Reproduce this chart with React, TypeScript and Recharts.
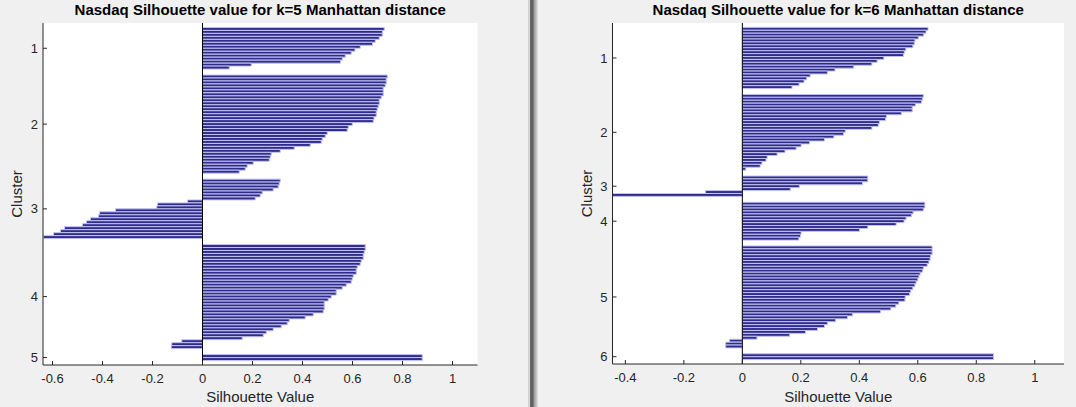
import React from 'react';
import { BarChart, Bar, XAxis, YAxis, ReferenceLine, CartesianGrid } from 'recharts';

// silhouette values per cluster, sorted as MATLAB draws them (top to bottom)
const k5Cluster1 = [0.727, 0.72, 0.719, 0.707, 0.691, 0.68, 0.631, 0.61, 0.595, 0.571, 0.559, 0.552, 0.195, 0.107];
const k5Cluster2 = [
    0.739, 0.735, 0.735, 0.731, 0.723, 0.723, 0.723, 0.715, 0.707, 0.707,
    0.703, 0.699, 0.695, 0.695, 0.686, 0.683, 0.599, 0.583, 0.579, 0.499,
    0.491, 0.479, 0.475, 0.431, 0.367, 0.311, 0.275, 0.271, 0.267, 0.203,
    0.179, 0.171, 0.147,
];
const k5Cluster3 = [
    0.311, 0.307, 0.303, 0.283, 0.239, 0.231, 0.211, -0.06, -0.18, -0.183,
    -0.348, -0.412, -0.416, -0.448, -0.464, -0.48, -0.552, -0.568, -0.596, -0.636,
];
const k5Cluster4 = [
    0.651, 0.651, 0.647, 0.643, 0.643, 0.635, 0.631, 0.619, 0.615, 0.615,
    0.603, 0.599, 0.595, 0.575, 0.559, 0.535, 0.535, 0.515, 0.503, 0.487,
    0.487, 0.487, 0.483, 0.443, 0.411, 0.347, 0.339, 0.315, 0.283, 0.255,
    0.243, 0.159, -0.083, -0.123, -0.125,
];
const k5Cluster5 = [0.879, 0.879];

const k6Cluster1 = [
    0.635, 0.628, 0.62, 0.602, 0.59, 0.588, 0.583, 0.559, 0.554, 0.551,
    0.484, 0.461, 0.443, 0.381, 0.317, 0.291, 0.232, 0.22, 0.211, 0.194, 0.17,
];
const k6Cluster2 = [
    0.619, 0.616, 0.613, 0.592, 0.581, 0.581, 0.544, 0.493, 0.49, 0.469,
    0.465, 0.443, 0.352, 0.346, 0.313, 0.281, 0.23, 0.201, 0.184, 0.146,
    0.119, 0.085, 0.081, 0.067, 0.061, 0.012,
];
const k6Cluster3 = [0.429, 0.429, 0.411, 0.195, 0.164, -0.126, -0.444];
const k6Cluster4 = [0.624, 0.624, 0.619, 0.584, 0.578, 0.56, 0.553, 0.526, 0.429, 0.401, 0.201, 0.199, 0.193];
const k6Cluster5 = [
    0.649, 0.649, 0.649, 0.644, 0.642, 0.638, 0.632, 0.619, 0.616, 0.608,
    0.604, 0.6, 0.594, 0.59, 0.583, 0.576, 0.572, 0.557, 0.556, 0.535,
    0.525, 0.508, 0.473, 0.377, 0.36, 0.319, 0.291, 0.281, 0.257, 0.216,
    0.162, 0.05, -0.044, -0.057, -0.057,
];
const k6Cluster6 = [0.859, 0.859];

const k5XTicks = [-0.6, -0.4, -0.2, 0, 0.2, 0.4, 0.6, 0.8, 1];
const k6XTicks = [-0.4, -0.2, 0, 0.2, 0.4, 0.6, 0.8, 1];

const GAP = 2; // empty rows around each cluster, like silhouette()
const FONT = '"Liberation Sans", Arial, Helvetica, sans-serif';
const AXIS = '#262626';
const BAR_FILL = '#2f2c8a';
const BAR_EDGE = '#c2c2f5';
const H = 407;

function buildRows(clusters: number[][]) {
    const rows: { pos: number; value: number }[] = [];
    const centers: number[] = [];
    let pos = GAP;
    clusters.forEach((c) => {
        centers.push(pos + 1 + (c.length - 1) / 2);
        c.forEach((v, i) => rows.push({ pos: pos + 1 + i, value: v }));
        pos += c.length + GAP;
    });
    return { rows, centers, last: pos };
}

interface PanelProps {
    title: string;
    clusters: number[][];
    xDomain: [number, number];
    xTicks: number[];
    width: number;
    plotLeft: number;
    plotRight: number;
    plotTop: number;
    plotBottom: number;
    clusterLabelX: number;
}

const SilhouettePanel: React.FC<PanelProps> = (p) => {
    const { rows, centers, last } = buildRows(p.clusters);
    const pitch = (p.plotBottom - p.plotTop) / (last - 1);
    const tickStyle = { fill: AXIS, fontSize: 13, fontFamily: FONT };
    const blank = () => '';
    return (
        <div style={{ position: 'relative', width: p.width, height: H }}>
            <BarChart
                width={p.width}
                height={H}
                data={rows}
                layout="vertical"
                margin={{ top: p.plotTop, right: p.width - p.plotRight, bottom: 0, left: 0 }}
                barCategoryGap={0}
                barGap={0}
            >
                <CartesianGrid xAxisId="b" yAxisId="l" fill="#ffffff" horizontal={false} vertical={false} />
                <XAxis
                    xAxisId="b"
                    type="number"
                    domain={p.xDomain}
                    allowDataOverflow
                    ticks={p.xTicks}
                    interval={0}
                    tickSize={-4}
                    tickMargin={13}
                    height={H - p.plotBottom}
                    axisLine={{ stroke: AXIS }}
                    tickLine={{ stroke: AXIS }}
                    tick={tickStyle}
                    tickFormatter={(v) => String(v)}
                    label={{ value: 'Silhouette Value', position: 'insideBottom', offset: 5.5, fill: AXIS, fontSize: 15, fontFamily: FONT }}
                />
                <XAxis
                    xAxisId="t"
                    orientation="top"
                    type="number"
                    domain={p.xDomain}
                    allowDataOverflow
                    ticks={p.xTicks}
                    interval={0}
                    tickSize={-4}
                    height={0}
                    axisLine={{ stroke: AXIS }}
                    tickLine={{ stroke: AXIS }}
                    tickFormatter={blank}
                />
                <YAxis
                    yAxisId="l"
                    type="number"
                    dataKey="pos"
                    domain={[1, last]}
                    allowDataOverflow
                    ticks={centers}
                    interval={0}
                    tickSize={-4}
                    tickMargin={9}
                    width={p.plotLeft}
                    axisLine={{ stroke: AXIS }}
                    tickLine={{ stroke: AXIS }}
                    tick={tickStyle}
                    tickFormatter={(v) => String(centers.indexOf(v) + 1)}
                    label={{ value: 'Cluster', angle: -90, position: 'insideLeft', offset: p.clusterLabelX, textAnchor: 'middle', fill: AXIS, fontSize: 15, fontFamily: FONT }}
                />
                <YAxis
                    yAxisId="r"
                    orientation="right"
                    type="number"
                    dataKey="pos"
                    domain={[1, last]}
                    allowDataOverflow
                    ticks={centers}
                    interval={0}
                    tickSize={-4}
                    width={0}
                    axisLine={{ stroke: AXIS }}
                    tickLine={{ stroke: AXIS }}
                    tickFormatter={blank}
                />
                <Bar
                    xAxisId="b"
                    yAxisId="l"
                    dataKey="value"
                    fill={BAR_FILL}
                    stroke={BAR_EDGE}
                    strokeWidth={1}
                    barSize={pitch - 0.02}
                    isAnimationActive={false}
                />
                <ReferenceLine xAxisId="b" yAxisId="l" x={0} stroke="#000" strokeWidth={1} />
            </BarChart>
            <svg width={p.width} height={H} style={{ position: 'absolute', left: 0, top: 0, pointerEvents: 'none' }}>
                <text
                    x={(p.plotLeft + p.plotRight) / 2}
                    y={14.5}
                    textAnchor="middle"
                    fill="#000"
                    fontSize={15}
                    fontWeight="bold"
                    fontFamily={FONT}
                >
                    {p.title}
                </text>
            </svg>
        </div>
    );
};

export default function App() {
    return (
        <div style={{ position: 'absolute', left: 0, top: 0, width: 1076, height: H, background: '#f0f0f0', overflow: 'hidden' }}>
            <div style={{ position: 'absolute', left: 0, top: 0 }}>
                <SilhouettePanel
                    title="Nasdaq Silhouette value for k=5 Manhattan distance"
                    clusters={[k5Cluster1, k5Cluster2, k5Cluster3, k5Cluster4, k5Cluster5]}
                    xDomain={[-0.638, 1.1]}
                    xTicks={k5XTicks}
                    width={528}
                    plotLeft={43}
                    plotRight={477.5}
                    plotTop={23}
                    plotBottom={365}
                    clusterLabelX={17}
                />
            </div>
            <div
                style={{
                    position: 'absolute',
                    left: 528,
                    top: 0,
                    width: 10,
                    height: H,
                    background: 'linear-gradient(to right, #d4d4d4 0px, #d4d4d4 2px, #6a6a6a 2px, #5c5c5c 5px, #9a9a9a 6px, #cfcfcf 9px, #e4e4e4 10px)',
                }}
            />
            <div style={{ position: 'absolute', left: 538, top: 0 }}>
                <SilhouettePanel
                    title="Nasdaq Silhouette value for k=6 Manhattan distance"
                    clusters={[k6Cluster1, k6Cluster2, k6Cluster3, k6Cluster4, k6Cluster5, k6Cluster6]}
                    xDomain={[-0.444, 1.1]}
                    xTicks={k6XTicks}
                    width={538}
                    plotLeft={74.5}
                    plotRight={526}
                    plotTop={23}
                    plotBottom={364}
                    clusterLabelX={49}
                />
            </div>
        </div>
    );
}
